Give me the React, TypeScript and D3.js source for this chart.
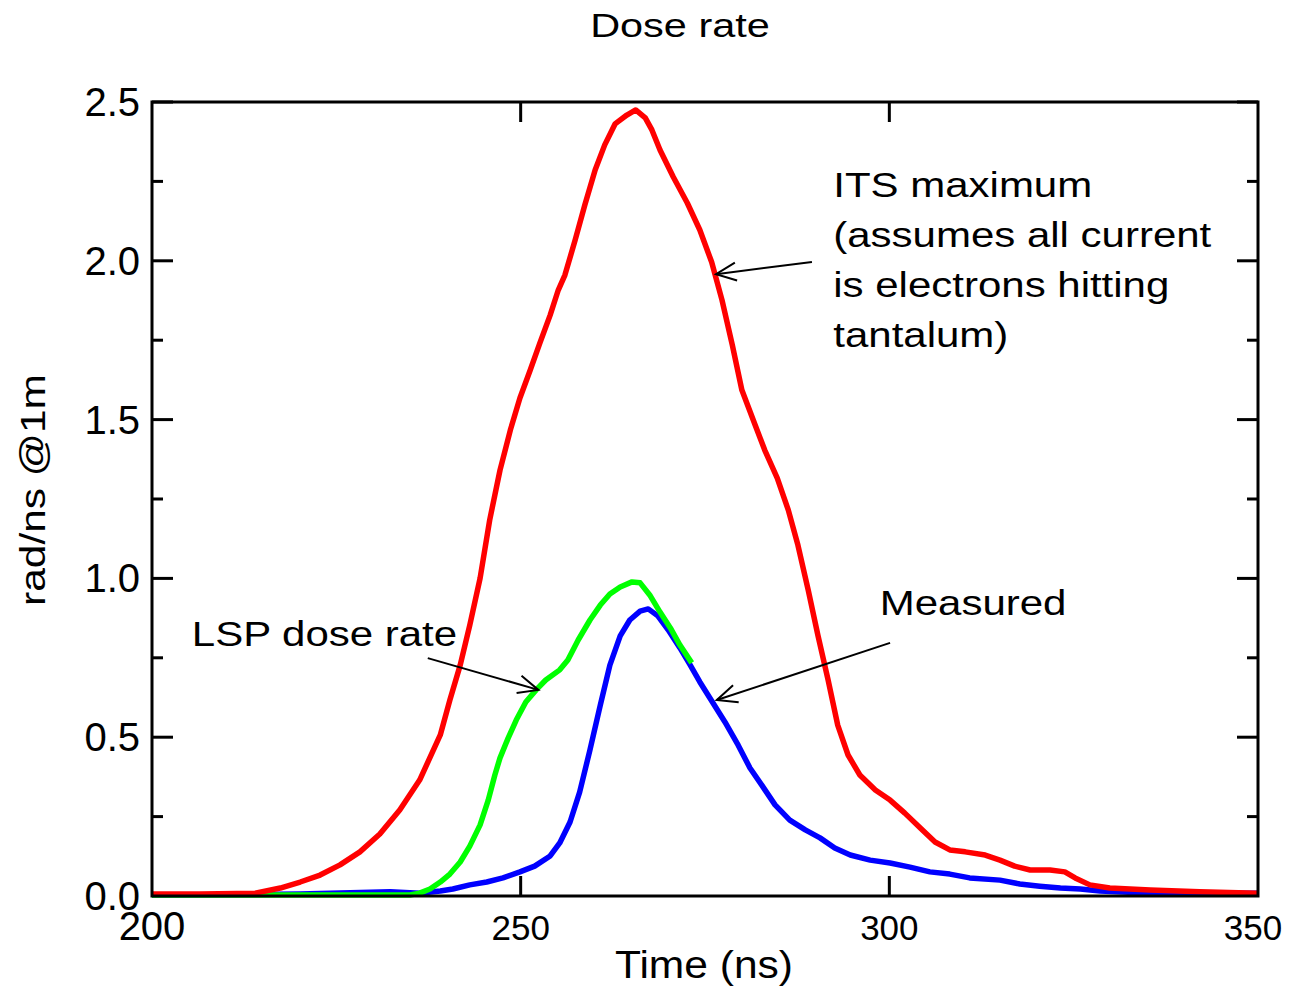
import React from "react";
import * as d3 from "d3";

// ITS maximum (red)
const itsTime = [200, 206.5, 214.0, 217.4, 220.1, 222.8, 225.5, 228.2, 230.9, 233.6, 236.3, 239.1, 240.4, 241.8, 243.1, 244.5, 245.8, 247.2, 248.6, 249.9, 251.3, 252.6, 254.0, 255.1, 256.0, 257.4, 258.7, 260.1, 261.4, 262.8, 264.4, 265.6, 266.9, 267.8, 268.9, 270.7, 272.6, 274.3, 275.9, 277.3, 278.7, 280.0, 281.8, 283.1, 284.8, 286.3, 287.6, 289.0, 290.3, 291.7, 293.0, 294.4, 296.0, 298.1, 300.1, 302.1, 304.2, 306.2, 308.2, 310.3, 313.0, 315.0, 317.0, 319.1, 321.8, 323.8, 325.2, 327.2, 329.9, 335.4, 342.1, 350];
const itsRate = [0.006, 0.006, 0.009, 0.025, 0.044, 0.066, 0.098, 0.139, 0.195, 0.271, 0.365, 0.507, 0.617, 0.727, 0.853, 1.001, 1.184, 1.341, 1.467, 1.568, 1.656, 1.741, 1.829, 1.908, 1.955, 2.066, 2.176, 2.286, 2.365, 2.431, 2.459, 2.475, 2.450, 2.412, 2.349, 2.264, 2.182, 2.097, 1.996, 1.877, 1.735, 1.593, 1.483, 1.404, 1.316, 1.215, 1.105, 0.963, 0.822, 0.680, 0.538, 0.444, 0.381, 0.334, 0.302, 0.261, 0.214, 0.170, 0.145, 0.139, 0.129, 0.113, 0.094, 0.082, 0.082, 0.076, 0.057, 0.035, 0.025, 0.019, 0.013, 0.009];

// LSP dose rate (green)
const lspTime = [200, 235.0, 236.3, 237.7, 239.1, 240.4, 241.8, 243.1, 244.5, 245.6, 246.5, 247.2, 248.3, 249.4, 250.7, 252.1, 253.4, 255.3, 256.4, 257.8, 259.4, 260.8, 262.1, 263.5, 265.1, 266.2, 267.5, 268.9, 270.3, 271.6, 273.2];
const lspRate = [0.003, 0.003, 0.009, 0.022, 0.044, 0.069, 0.107, 0.157, 0.224, 0.302, 0.381, 0.435, 0.497, 0.554, 0.611, 0.649, 0.680, 0.712, 0.743, 0.806, 0.869, 0.916, 0.951, 0.973, 0.989, 0.986, 0.948, 0.894, 0.844, 0.790, 0.734];

// Measured (blue)
const measTime = [200, 220.1, 232.3, 236.3, 239.1, 240.8, 243.1, 245.4, 247.6, 249.9, 251.9, 254.0, 255.3, 256.7, 258.0, 259.4, 260.8, 262.1, 263.5, 264.8, 266.2, 267.3, 268.6, 270.0, 271.6, 273.0, 274.3, 276.0, 277.7, 279.5, 281.1, 282.7, 284.5, 286.5, 288.6, 290.6, 292.6, 294.7, 297.4, 300.1, 302.8, 305.5, 308.2, 310.9, 315.0, 317.7, 320.4, 323.2, 325.9, 328.6, 335.4, 344.9, 350];
const measRate = [0.003, 0.006, 0.013, 0.009, 0.016, 0.022, 0.035, 0.044, 0.057, 0.076, 0.094, 0.126, 0.167, 0.233, 0.327, 0.460, 0.601, 0.727, 0.819, 0.869, 0.897, 0.904, 0.882, 0.838, 0.781, 0.727, 0.674, 0.611, 0.548, 0.475, 0.403, 0.349, 0.287, 0.239, 0.208, 0.183, 0.151, 0.129, 0.113, 0.104, 0.091, 0.076, 0.069, 0.057, 0.050, 0.038, 0.031, 0.025, 0.022, 0.016, 0.009, 0.009, 0.009];

const xTickValues = [250, 300, 350];
const yMajorTicks = [0.5, 1.0, 1.5, 2.0, 2.5];
const yMinorTicks = [0.25, 0.75, 1.25, 1.75, 2.25];

const FONT = "'Liberation Sans', Arial, Helvetica, sans-serif";

const W = 1289, H = 988;
const L = 152, T = 102, R = 1258, B = 896;

export default function App() {
  const x = d3.scaleLinear().domain([200, 350]).range([L, R]);
  const y = d3.scaleLinear().domain([0, 2.5]).range([B, T]);
  const line = d3.line<[number, number]>().x(d => x(d[0])).y(d => y(d[1]));
  const its = itsTime.map((t, i) => [t, itsRate[i]] as [number, number]);
  const lsp = lspTime.map((t, i) => [t, lspRate[i]] as [number, number]);
  const meas = measTime.map((t, i) => [t, measRate[i]] as [number, number]);

  const arrow = (t0: number, v0: number, t1: number, v1: number, key: string) => {
    const x0 = x(t0), y0 = y(v0), x1 = x(t1), y1 = y(v1);
    const ang = Math.atan2(y0 - y1, x0 - x1);
    const len = 22, spread = 0.42;
    const a1 = [x1 + len * Math.cos(ang + spread), y1 + len * Math.sin(ang + spread)];
    const a2 = [x1 + len * Math.cos(ang - spread), y1 + len * Math.sin(ang - spread)];
    return (
      <g key={key} stroke="#000" strokeWidth={2} fill="none">
        <line x1={x0} y1={y0} x2={x1} y2={y1} />
        <polyline points={`${a1[0]},${a1[1]} ${x1},${y1} ${a2[0]},${a2[1]}`} />
      </g>
    );
  };

  const sx = 1.2;
  const txt = (s: string, px: number, py: number, size: number, key: string, anchor = "start", scaleX = sx) => (
    <text key={key} transform={`translate(${px},${py}) scale(${scaleX},1)`} fontSize={size} fontFamily={FONT} textAnchor={anchor} fill="#000">{s}</text>
  );

  const itsLines = ["ITS maximum", "(assumes all current", "is electrons hitting", "tantalum)"];

  return (
    <svg width={W} height={H} style={{ position: "absolute", left: 0, top: 0, background: "#fff" }}>
      <rect x={0} y={0} width={W} height={H} fill="#fff" />
      {txt("Dose rate", 680, 37, 34, "title", "middle", 1.22)}

      <path d={line(meas) || ""} fill="none" stroke="#0000ff" strokeWidth={5.5} strokeLinejoin="round" />
      <path d={line(lsp) || ""} fill="none" stroke="#00ff00" strokeWidth={5.5} strokeLinejoin="round" />
      <path d={line(its) || ""} fill="none" stroke="#ff0000" strokeWidth={5.5} strokeLinejoin="round" />

      <rect x={L} y={T} width={R - L} height={B - T} fill="none" stroke="#000" strokeWidth={3} />

      {yMajorTicks.map(v => (
        <g key={"ym" + v} stroke="#000" strokeWidth={3}>
          <line x1={L} x2={L + 21} y1={y(v)} y2={y(v)} />
          <line x1={R} x2={R - 21} y1={y(v)} y2={y(v)} />
        </g>
      ))}
      {yMinorTicks.map(v => (
        <g key={"yn" + v} stroke="#000" strokeWidth={3}>
          <line x1={L} x2={L + 11} y1={y(v)} y2={y(v)} />
          <line x1={R} x2={R - 11} y1={y(v)} y2={y(v)} />
        </g>
      ))}
      {xTickValues.filter(v => v < 350).map(v => (
        <g key={"xt" + v} stroke="#000" strokeWidth={3}>
          <line x1={x(v)} x2={x(v)} y1={B} y2={B - 20} />
          <line x1={x(v)} x2={x(v)} y1={T} y2={T + 20} />
        </g>
      ))}

      {[0, ...yMajorTicks].map(v => (
        <text key={"yl" + v} x={L - 12} y={y(v) + 14} fontSize={40} fontFamily={FONT} textAnchor="end">{d3.format(".1f")(v)}</text>
      ))}
      <text x={x(200)} y={940} fontSize={40} fontFamily={FONT} textAnchor="middle">200</text>
      {xTickValues.map(v => (
        <text key={"xl" + v} x={x(v) - (v === 350 ? 5 : 0)} y={940} fontSize={35} fontFamily={FONT} textAnchor="middle">{v}</text>
      ))}

      <text transform={`translate(704,978) scale(1.12,1)`} fontSize={38} fontFamily={FONT} textAnchor="middle">Time (ns)</text>
      <text transform={`translate(45,490) rotate(-90) scale(1.18,1)`} fontSize={36} fontFamily={FONT} textAnchor="middle">rad/ns @1m</text>

      {itsLines.map((s, i) => txt(s, x(292.4), y(2.201) + i * 50, 35, "its" + i))}
      {txt("LSP dose rate", x(205.4), y(0.787), 35, "lsp")}
      {txt("Measured", x(298.7), y(0.885), 35, "meas")}

      {arrow(289.5, 1.996, 276.5, 1.958, "a1")}
      {arrow(237.4, 0.749, 252.4, 0.649, "a2")}
      {arrow(300.1, 0.797, 276.6, 0.617, "a3")}
    </svg>
  );
}
